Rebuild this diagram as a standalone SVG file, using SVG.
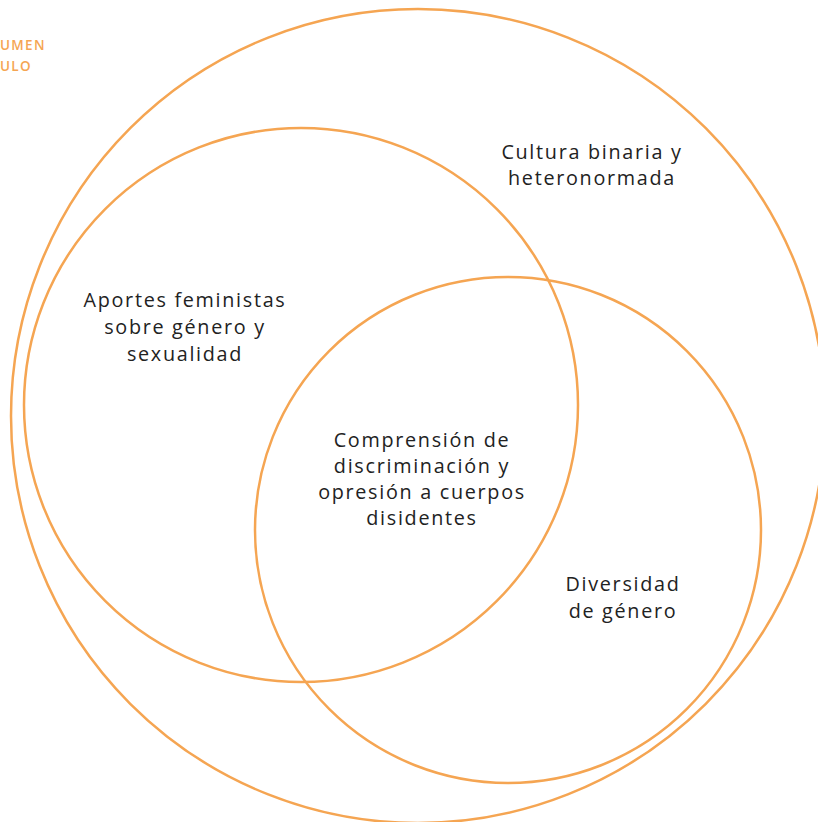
<svg xmlns="http://www.w3.org/2000/svg" width="818" height="822" viewBox="0 0 818 822">
<style>
.c{fill:none;stroke:#F5A552;stroke-width:2.5}
.t{font-family:"Open Sans","Noto Sans",sans-serif;font-size:19.8px;fill:#222;letter-spacing:1.7px;text-anchor:middle}
.h{font-family:"Open Sans","Noto Sans",sans-serif;font-size:13.5px;font-weight:600;fill:#F5A552;letter-spacing:1.3px}
</style>
<rect width="818" height="822" fill="#fff"/>
<g id="header">
<text class="h" x="0" y="50">UMEN</text>
<text class="h" x="0" y="71">ULO</text>
</g>
<g id="cultura">
<circle class="c" cx="418" cy="416" r="407"/>
<text class="t" x="592" y="159">Cultura binaria y</text>
<text class="t" x="592" y="185">heteronormada</text>
</g>
<g id="aportes">
<circle class="c" cx="301" cy="405" r="277"/>
<text class="t" x="185" y="307">Aportes feministas</text>
<text class="t" x="185" y="334">sobre género y</text>
<text class="t" x="185" y="361">sexualidad</text>
</g>
<g id="diversidad">
<circle class="c" cx="508" cy="530" r="253"/>
<text class="t" x="623" y="591">Diversidad</text>
<text class="t" x="623" y="618">de género</text>
</g>
<g id="comprension">
<text class="t" x="422" y="447">Comprensión de</text>
<text class="t" x="422" y="473">discriminación y</text>
<text class="t" x="422" y="499">opresión a cuerpos</text>
<text class="t" x="422" y="525">disidentes</text>
</g>
<g id="connectors"></g>
</svg>
